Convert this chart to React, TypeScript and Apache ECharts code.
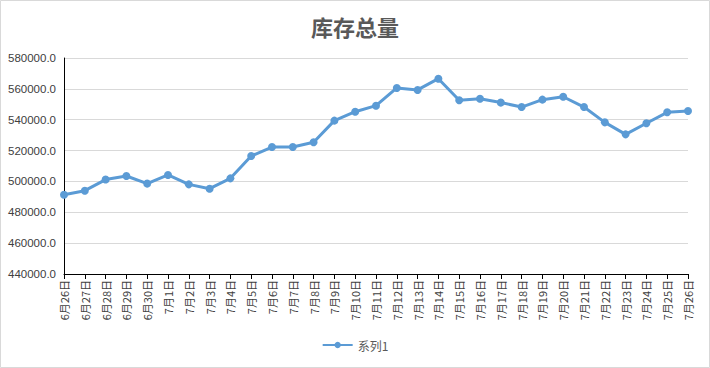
import React, { useEffect, useRef } from "react";
import * as echarts from "echarts";

const categories = [
  "6月26日", "6月27日", "6月28日", "6月29日", "6月30日",
  "7月1日", "7月2日", "7月3日", "7月4日", "7月5日", "7月6日", "7月7日", "7月8日", "7月9日",
  "7月10日", "7月11日", "7月12日", "7月13日", "7月14日", "7月15日", "7月16日", "7月17日",
  "7月18日", "7月19日", "7月20日", "7月21日", "7月22日", "7月23日", "7月24日", "7月25日", "7月26日",
];

const series1 = [
  491400, 494000, 501200, 503500, 498600,
  504200, 498100, 495300, 502000, 516500, 522300, 522300, 525400, 539400,
  545200, 549100, 560600, 559300, 566600, 552600, 553600, 551100,
  548200, 553000, 554900, 548200, 538300, 530500, 537700, 544800, 545700,
];

const yMin = 440000;
const yMax = 580000;
const yStep = 20000;

export default function App() {
  const ref = useRef<HTMLDivElement>(null);
  useEffect(() => {
    document.body.style.margin = "0";
    if (!ref.current) return;
    const chart = echarts.init(ref.current, undefined, { renderer: "svg" });
    chart.setOption({
      animation: false,
      backgroundColor: "#ffffff",
      title: {
        text: "库存总量",
        left: "center",
        top: 10,
        textStyle: {
          fontFamily: "Noto Sans CJK SC",
          fontSize: 22,
          fontWeight: 600,
          color: "#595959",
        },
      },
      graphic: [
        {
          type: "rect",
          shape: { x: 0.5, y: 0.5, width: 709, height: 367 },
          style: { fill: "none", stroke: "#d9d9d9", lineWidth: 1 },
          silent: true,
        },
      ],
      legend: {
        bottom: 12,
        left: "center",
        itemWidth: 30,
        itemHeight: 8,
        textStyle: { color: "#595959", fontSize: 12, fontFamily: "Noto Sans CJK SC" },
        data: ["系列1"],
      },
      grid: { left: 64, right: 22, top: 58, bottom: 94, containLabel: false },
      xAxis: {
        type: "category",
        boundaryGap: false,
        data: categories,
        axisLine: { lineStyle: { color: "#000000", width: 1 } },
        axisTick: { show: true, alignWithLabel: true, length: 5, lineStyle: { color: "#000000" } },
        axisLabel: {
          rotate: 90,
          interval: 0,
          fontSize: 11,
          color: "#404040",
          margin: 6,
          fontFamily: "Noto Sans CJK SC",
        },
      },
      yAxis: {
        type: "value",
        min: yMin,
        max: yMax,
        interval: yStep,
        axisLine: { show: true, lineStyle: { color: "#000000", width: 1 } },
        axisTick: { show: false },
        splitLine: { lineStyle: { color: "#d9d9d9", width: 1 } },
        axisLabel: {
          formatter: (v: number) => v.toFixed(1),
          fontSize: 11.5,
          color: "#404040",
          margin: 8,
          fontFamily: "Liberation Sans",
        },
      },
      series: [
        {
          name: "系列1",
          type: "line",
          data: series1,
          symbol: "circle",
          symbolSize: 8,
          lineStyle: { color: "#5B9BD5", width: 3 },
          itemStyle: { color: "#5B9BD5" },
        },
      ],
    });
    return () => chart.dispose();
  }, []);
  return <div ref={ref} style={{ width: 710, height: 368 }} />;
}
